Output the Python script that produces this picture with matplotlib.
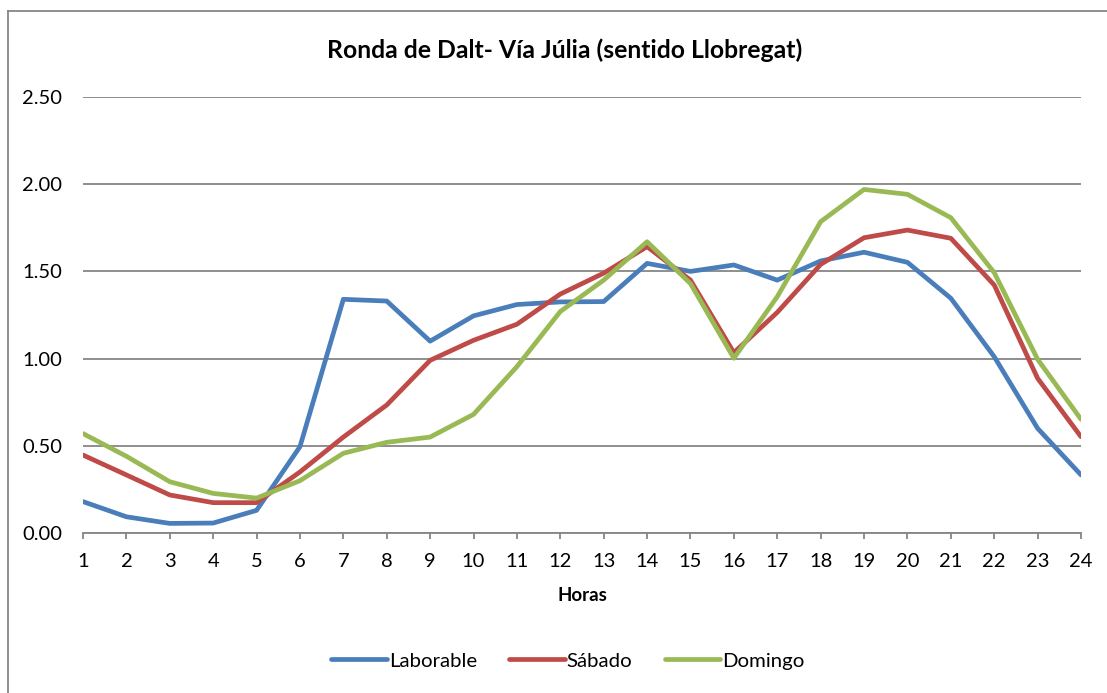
import matplotlib
matplotlib.use("Agg")
import matplotlib.pyplot as plt
from matplotlib.lines import Line2D

plt.rcParams['font.family'] = ['Lato', 'DejaVu Sans']

horas = list(range(1, 25))
laborable = [0.18, 0.093, 0.055, 0.057, 0.13, 0.495, 1.34, 1.33, 1.10, 1.245,
             1.31, 1.325, 1.327, 1.546, 1.50, 1.537, 1.45, 1.56, 1.61, 1.552,
             1.346, 1.011, 0.60, 0.333]
sabado = [0.447, 0.333, 0.218, 0.174, 0.174, 0.35, 0.55, 0.734, 0.99, 1.105,
          1.197, 1.37, 1.49, 1.642, 1.45, 1.034, 1.265, 1.54, 1.693, 1.737,
          1.69, 1.422, 0.887, 0.552]
domingo = [0.57, 0.44, 0.294, 0.227, 0.20, 0.30, 0.457, 0.52, 0.55, 0.68,
           0.954, 1.27, 1.45, 1.67, 1.43, 1.002, 1.355, 1.785, 1.97, 1.942,
           1.808, 1.493, 0.996, 0.652]
yticks = [0.0, 0.5, 1.0, 1.5, 2.0, 2.5]

W, H = 1107, 693
fig = plt.figure(figsize=(W / 100, H / 100), dpi=100)
ax = fig.add_axes([83 / W, 1 - 533 / H, (1081 - 83) / W, (533 - 97) / H])

colors = ['#4A7EBB', '#BE4B48', '#98B954']
names = ['Laborable', 'Sábado', 'Domingo']
for data, c in zip([laborable, sabado, domingo], colors):
    ax.plot(horas, data, color=c, lw=3.4, solid_capstyle='round',
            solid_joinstyle='round', zorder=3)

ax.set_xlim(1, 24)
ax.set_ylim(0, 2.5)
ax.set_yticks(yticks)
ax.set_yticklabels([f"{v:.2f}" for v in yticks], fontsize=14.5)
ax.set_xticks(horas)
ax.set_xticklabels([str(h) for h in horas], fontsize=14.5)
ax.yaxis.grid(True, color='#868686', lw=1.3)
ax.set_axisbelow(True)
for s in ['left', 'right', 'top']:
    ax.spines[s].set_visible(False)
ax.spines['bottom'].set_color('#868686')
ax.spines['bottom'].set_linewidth(1.3)
ax.tick_params(axis='y', length=0, pad=15)
ax.tick_params(axis='x', length=4.5, color='#868686', width=1.3, pad=10, direction='out')
ax.set_xlabel('Horas', fontsize=13.5, fontweight='bold', labelpad=12)

fig.text(565 / W, 1 - 50 / H, 'Ronda de Dalt- Vía Júlia (sentido Llobregat)',
         ha='center', va='center', fontsize=17.8, fontweight='bold')

handles = [Line2D([], [], color=c, lw=3.4, solid_capstyle='round') for c in colors]
fig.legend(handles, names, loc='center', bbox_to_anchor=(568 / W, 1 - 661 / H),
           ncol=3, frameon=False, fontsize=14.7, handlelength=2.7,
           handletextpad=0.1, columnspacing=1.6)

# chart border (top and left visible)
fig.add_artist(Line2D([8 / W, 1], [1 - 11 / H, 1 - 11 / H], color='#868686', lw=1.3,
                      transform=fig.transFigure))
fig.add_artist(Line2D([8 / W, 8 / W], [0, 1 - 11 / H], color='#868686', lw=1.3,
                      transform=fig.transFigure))

fig.savefig('out.png', dpi=100)
